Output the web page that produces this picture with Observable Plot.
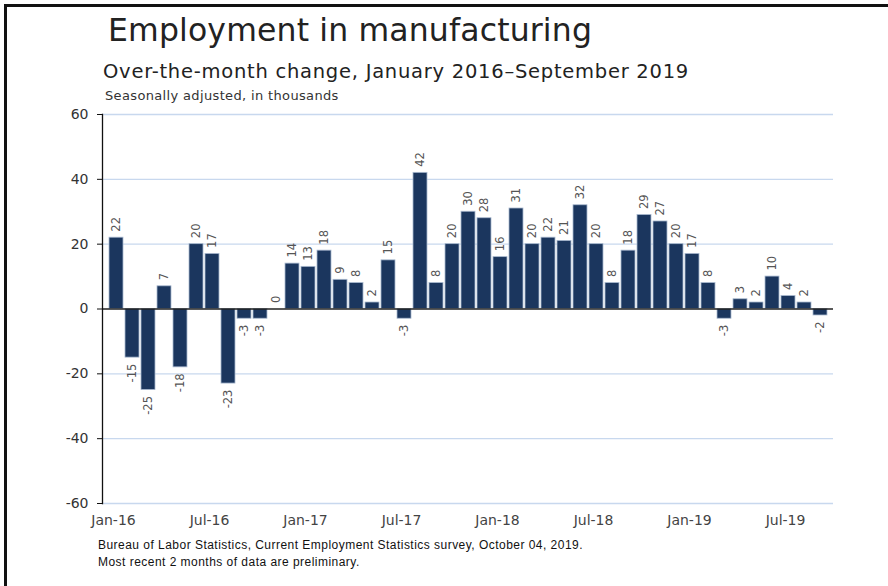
<!DOCTYPE html>
<html>
<head>
<meta charset="utf-8">
<script src="https://cdn.jsdelivr.net/npm/d3@7"></script>
<script src="https://cdn.jsdelivr.net/npm/@observablehq/plot@0.6"></script>
<style>
  html, body { margin: 0; padding: 0; background: #fff; }
  #page { position: relative; width: 888px; height: 586px; overflow: hidden; background: #fff; }
  #frame { position: absolute; left: 4px; top: 4px; width: 1000px; height: 1000px;
           border-left: 3px solid #111; border-top: 3px solid #111; }
  .t { position: absolute; white-space: nowrap; line-height: 1; color: #222; font-family: "DejaVu Sans", sans-serif; }
  #title { left: 108px; top: 15px; font-size: 31.5px; letter-spacing: 0.15px; }
  #subtitle { left: 103px; top: 62px; font-size: 19.5px; letter-spacing: 0.75px; }
  #unit { left: 105px; top: 89px; font-size: 13px; letter-spacing: 0.35px; color: #333; }
  .foot { position: absolute; left: 98px; font-family: "Liberation Sans", Arial, sans-serif; font-size: 12px; letter-spacing: 0.47px; line-height: 1; color: #111; white-space: nowrap; }
  #chart { position: absolute; left: 0; top: 100px; }
</style>
</head>
<body>
<div id="page">
  <div id="frame"></div>
  <div class="t" id="title">Employment in manufacturing</div>
  <div class="t" id="subtitle">Over-the-month change, January 2016–September 2019</div>
  <div class="t" id="unit">Seasonally adjusted, in thousands</div>
  <div id="chart"></div>
  <div class="foot" style="top:539px">Bureau of Labor Statistics, Current Employment Statistics survey, October 04, 2019.</div>
  <div class="foot" style="top:556px">Most recent 2 months of data are preliminary.</div>
</div>
<script>
const months = [
  "Jan-16","Feb-16","Mar-16","Apr-16","May-16","Jun-16","Jul-16","Aug-16","Sep-16","Oct-16","Nov-16","Dec-16",
  "Jan-17","Feb-17","Mar-17","Apr-17","May-17","Jun-17","Jul-17","Aug-17","Sep-17","Oct-17","Nov-17","Dec-17",
  "Jan-18","Feb-18","Mar-18","Apr-18","May-18","Jun-18","Jul-18","Aug-18","Sep-18","Oct-18","Nov-18","Dec-18",
  "Jan-19","Feb-19","Mar-19","Apr-19","May-19","Jun-19","Jul-19","Aug-19","Sep-19"
];
const changes = [
  22, -15, -25, 7, -18, 20, 17, -23, -3, -3, 0, 14,
  13, 18, 9, 8, 2, 15, -3, 42, 8, 20, 30, 28,
  16, 31, 20, 22, 21, 32, 20, 8, 18, 29, 27, 20,
  17, 8, -3, 3, 2, 10, 4, 2, -2
];
const xTickLabels = ["Jan-16","Jul-16","Jan-17","Jul-17","Jan-18","Jul-18","Jan-19","Jul-19"];
const yTicks = [-60, -40, -20, 0, 20, 40, 60];

const data = months.map((m, i) => ({month: m, value: changes[i]}));
const pos = data.filter(d => d.value >= 0);
const neg = data.filter(d => d.value < 0);

const chart = Plot.plot({
  width: 888,
  height: 486,
  marginTop: 14,
  marginBottom: 83,
  marginLeft: 102,
  marginRight: 55,
  style: {fontFamily: "DejaVu Sans, sans-serif", background: "transparent", overflow: "visible"},
  x: {type: "band", domain: months, paddingInner: 0.15, paddingOuter: 0.05, label: null},
  y: {domain: [-60, 60], label: null},
  marks: [
    Plot.ruleY(yTicks.filter(v => v !== 0), {stroke: "#c8d8ee", strokeWidth: 1.3}),
    Plot.barY(data, {x: "month", y: "value", fill: "#1b365e", stroke: "#a9b9cf", strokeWidth: 0.8}),
    Plot.ruleY([0], {stroke: "#222", strokeWidth: 1.3}),
    Plot.frame({anchor: "left", stroke: "#111", strokeWidth: 1.3}),
    Plot.axisY({ticks: yTicks, tickFormat: d => String(d), tickSize: 5, tickPadding: 9, fontSize: 14, fill: "#333", stroke: "#111", label: null}),
    Plot.axisX({ticks: xTickLabels, tickSize: 0, tickPadding: 12, fontSize: 14, fill: "#444", dx: -3, label: null}),
    Plot.text(pos, {x: "month", y: "value", text: d => String(d.value), rotate: -90, textAnchor: "start", dy: -6, fontSize: 11.5, fill: "#555"}),
    Plot.text(neg, {x: "month", y: "value", text: d => String(d.value), rotate: -90, textAnchor: "end", dy: 6, fontSize: 11.5, fill: "#555"})
  ]
});
document.getElementById("chart").appendChild(chart);
</script>
</body>
</html>
